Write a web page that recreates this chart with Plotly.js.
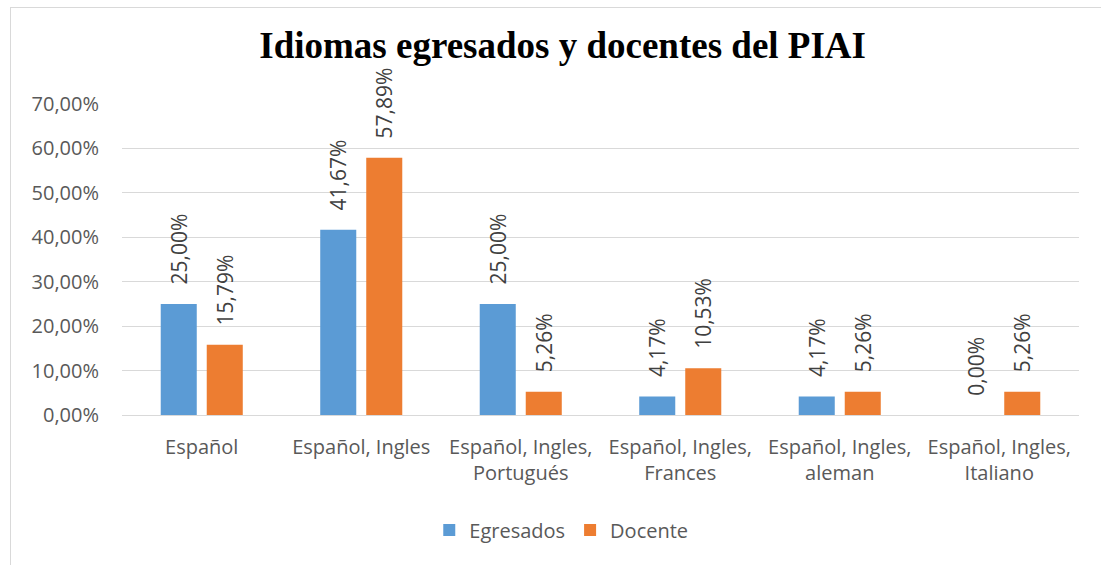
<!DOCTYPE html>
<html><head><meta charset="utf-8">
<script src="https://cdn.plot.ly/plotly-3.0.1.min.js"></script>
<style>html,body{margin:0;padding:0;overflow:hidden;background:#fff}
#frame{position:absolute;left:10px;top:7px;width:1200px;height:700px;border:1px solid #D9D9D9;pointer-events:none}
</style></head>
<body><div id="chart" style="width:1101px;height:565px"></div><div id="frame"></div>
<script>
const categories = ["Español", "Español, Ingles", "Español, Ingles,<br>Portugués", "Español, Ingles,<br>Frances", "Español, Ingles,<br>aleman", "Español, Ingles,<br>Italiano"];
const egresados = [0.25, 0.4167, 0.25, 0.0417, 0.0417, 0.0];
const docente = [0.1579, 0.5789, 0.0526, 0.1053, 0.0526, 0.0526];
const yTicks = [0, 0.1, 0.2, 0.3, 0.4, 0.5, 0.6, 0.7];

const font = "Open Sans, sans-serif";
const labelFont = {family: font, size: 21, color: "#404040"};
function series(name, vals, color) {
  return {type: "bar", name: name, x: categories, y: vals,
    marker: {color: color},
    texttemplate: "\u00a0\u00a0\u00a0%{y:.2%}", textposition: "outside", textangle: -90,
    textfont: labelFont, cliponaxis: false, constraintext: "none", hoverinfo: "skip"};
}
const data = [series("Egresados", egresados, "#5B9BD5"), series("Docente", docente, "#ED7D31")];
const layout = {
  width: 1101, height: 565,
  margin: {l: 122, r: 22, t: 104, b: 150},
  separators: ",.",
  paper_bgcolor: "#fff", plot_bgcolor: "#fff",
  title: {text: "<b>Idiomas egresados y docentes del PIAI</b>", x: 0.511, xanchor: "center", y: 0.92, yanchor: "middle",
    font: {family: "Liberation Serif, Times New Roman, serif", size: 37, color: "#000"}},
  bargap: 0.423, bargroupgap: 0.217,
  xaxis: {showline: true, linecolor: "#D9D9D9", linewidth: 1, ticks: "", ticklabelstandoff: 14,
    tickfont: {family: font, size: 20, color: "#595959"}, fixedrange: true},
  yaxis: {range: [0, 0.7], tickvals: yTicks, tickformat: ".2%", gridcolor: "#D9D9D9", gridwidth: 1,
    zeroline: false, ticks: "", ticklabelstandoff: 22,
    tickfont: {family: font, size: 20, color: "#595959"}, fixedrange: true},
  showlegend: true,
  legend: {orientation: "h", x: 0.459, xanchor: "center", y: -0.37, yanchor: "middle",
    font: {family: font, size: 20, color: "#595959"}, itemwidth: 30, traceorder: "normal"}
};
Plotly.newPlot("chart", data, layout, {displayModeBar: false, staticPlot: true});
</script></body></html>
